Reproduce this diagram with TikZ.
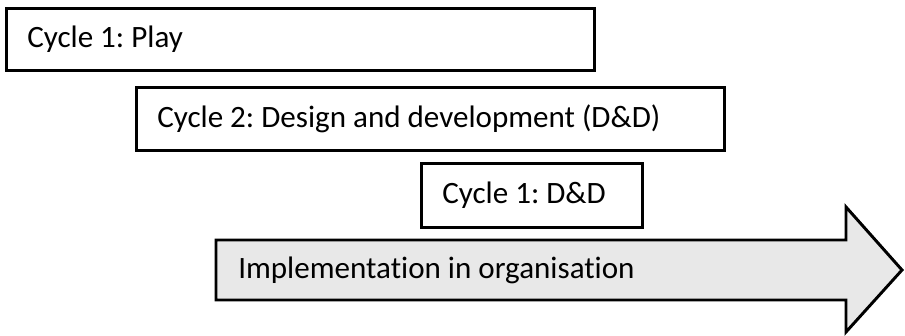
\documentclass[tikz,border=0pt]{standalone}
\usepackage{fontspec}
\setmainfont[Ligatures={NoCommon}]{Carlito}
\frenchspacing
\begin{document}
\begin{tikzpicture}[x=0.75pt,y=-0.75pt,
  frame/.style={draw=black,line width=2.2pt,fill=white,rectangle,inner sep=0pt,anchor=north west},
  caption/.style={anchor=west,inner sep=0pt,font=\fontsize{23.3}{28}\selectfont},
  phase/.style={draw=black,line width=2.2pt,fill=black!9,line join=miter}]
\useasboundingbox (0,0) rectangle (905,335);
% cycle boxes
\node[frame,minimum width=441pt,minimum height=46.5pt] (play) at (5,7) {};
\node[caption] (playtxt) at ([xshift=16.5pt]play.west) {Cycle 1: Play};
\node[frame,minimum width=441pt,minimum height=47.25pt] (design) at (135,86) {};
\node[caption] (designtxt) at ([xshift=16.5pt]design.west) {Cycle 2: Design and development (D\&D)};
\node[frame,minimum width=165.75pt,minimum height=48pt] (dd) at (420,162) {};
\node[caption] (ddtxt) at ([xshift=16.5pt]dd.west) {Cycle 1: D\&D};
% implementation arrow
\draw[phase] (216,240) -- (846,240) -- (846,207) -- (902,270) -- (846,332) -- (846,300) -- (216,300) -- cycle;
\node[caption] (impl) at (238,270) {Implementation in organisation};
\end{tikzpicture}
\end{document}
